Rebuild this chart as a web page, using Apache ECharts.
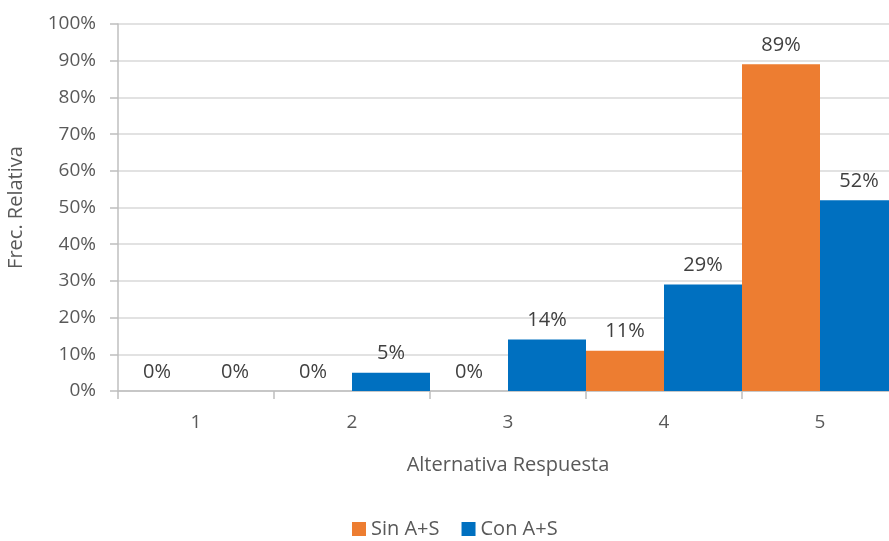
<!DOCTYPE html>
<html>
<head>
<meta charset="utf-8">
<script src="https://cdn.jsdelivr.net/npm/echarts@6/dist/echarts.min.js"></script>
<style>
  html, body { margin: 0; padding: 0; background: #fff; }
  #chart { width: 889px; height: 541px; }
</style>
</head>
<body>
<div id="chart"></div>
<script>
const categories = ['1', '2', '3', '4', '5']
const sinValues = [0, 0, 0, 11, 89]
const conValues = [0, 5, 14, 29, 52]

const FONT = '"Open Sans", "Liberation Sans", sans-serif'

let chart = echarts.init(document.getElementById('chart'))

function barLabel() {
  return {
    show: true,
    position: 'top',
    distance: 9,
    color: '#404040',
    fontSize: 20,
    fontFamily: FONT,
    formatter: p => p.value + '%'
  }
}

chart.setOption({
  backgroundColor: '#fff',
  animation: false,
  textStyle: { fontFamily: FONT },
  grid: {
    left: 118,
    right: -9,
    top: 24,
    bottom: 150,
    containLabel: false,
    outerBoundsMode: 'none'
  },
  legend: {
    bottom: -3,
    left: 347,
    itemWidth: 14,
    itemHeight: 14,
    itemGap: 22,
    icon: 'rect',
    textStyle: { color: '#595959', fontSize: 20, fontFamily: FONT },
    data: ['Sin A+S', 'Con A+S']
  },
  xAxis: {
    type: 'category',
    data: categories,
    name: 'Alternativa Respuesta',
    nameLocation: 'middle',
    nameGap: 64,
    nameTextStyle: { color: '#595959', fontSize: 20, fontFamily: FONT },
    axisLine: { lineStyle: { color: '#bfbfbf', width: 1.5 } },
    axisTick: { show: true, length: 8, lineStyle: { color: '#bfbfbf', width: 1.5 } },
    axisLabel: { color: '#595959', fontSize: 19, margin: 22 }
  },
  yAxis: {
    type: 'value',
    min: 0,
    max: 100,
    interval: 10,
    name: 'Frec. Relativa',
    nameLocation: 'middle',
    nameGap: 92,
    nameTextStyle: { color: '#595959', fontSize: 20, fontFamily: FONT },
    axisLine: { show: true, lineStyle: { color: '#bfbfbf', width: 1.5 } },
    axisTick: { show: true, length: 8, lineStyle: { color: '#bfbfbf', width: 1.5 } },
    axisLabel: { color: '#595959', fontSize: 19, margin: 22, formatter: v => v + '%' },
    splitLine: { lineStyle: { color: '#d9d9d9', width: 1.5 } }
  },
  series: [
    {
      name: 'Sin A+S',
      type: 'bar',
      data: sinValues,
      barGap: '0%',
      barCategoryGap: '0%',
      itemStyle: { color: '#ED7D31' },
      label: barLabel()
    },
    {
      name: 'Con A+S',
      type: 'bar',
      data: conValues,
      barGap: '0%',
      barCategoryGap: '0%',
      itemStyle: { color: '#0070C0' },
      label: barLabel()
    }
  ]
})
</script>
</body>
</html>
